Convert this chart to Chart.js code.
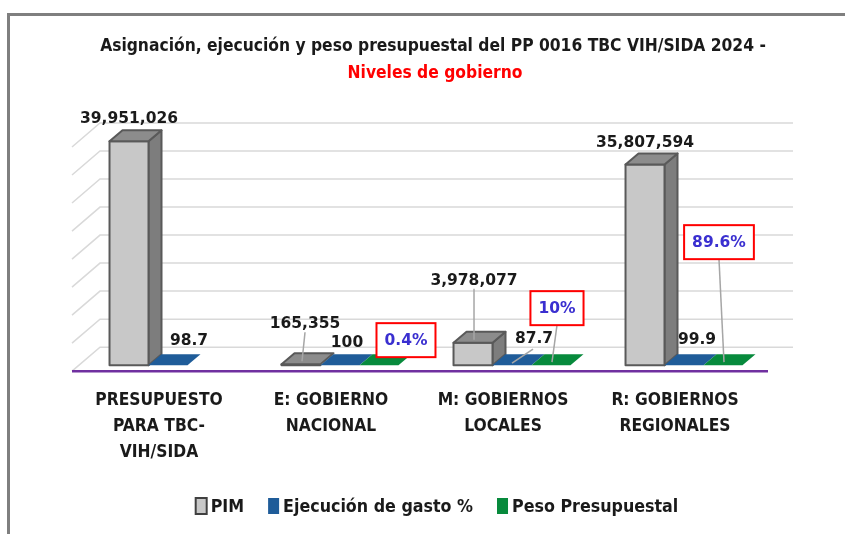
<!DOCTYPE html>
<html lang="es">
<head>
<meta charset="utf-8">
<title>PP 0016 TBC VIH/SIDA 2024</title>
<script src="https://cdn.jsdelivr.net/npm/chart.js@4.4.1/dist/chart.umd.min.js"></script>
<style>
  html, body { margin: 0; padding: 0; background: #fff; }
  #wrap { position: relative; width: 845px; height: 534px; overflow: hidden; }
  #frame { position: absolute; left: 7px; top: 13px; width: 900px; height: 600px;
           border-left: 3px solid #7f7f7f; border-top: 3px solid #7f7f7f; }
  canvas { position: absolute; left: 0; top: 0; }
</style>
</head>
<body>
<div id="wrap">
  <div id="frame"></div>
  <canvas id="chart" width="845" height="534"></canvas>
</div>
<script>
  const titleLine1 = "Asignación, ejecución y peso presupuestal del PP 0016 TBC VIH/SIDA 2024 -";
  const titleLine2 = "Niveles de gobierno";

  const categories = [
    ["PRESUPUESTO", "PARA TBC-", "VIH/SIDA"],
    ["E: GOBIERNO", "NACIONAL"],
    ["M: GOBIERNOS", "LOCALES"],
    ["R: GOBIERNOS", "REGIONALES"],
  ];
  const seriesNames = ["PIM", "Ejecución de gasto %", "Peso Presupuestal"];
  const pim = [39951026, 165355, 3978077, 35807594];
  const ejecucion = [98.7, 100, 87.7, 99.9];
  const peso = [null, 0.4, 10, 89.6];
  const gridValues = [0, 5000000, 10000000, 15000000, 20000000, 25000000, 30000000, 35000000, 40000000];

  const FONT = "'Liberation Sans Narrow', 'DejaVu Sans Condensed', 'Roboto Condensed', Arial, sans-serif";
  const LABEL_FONT = "bold 15.5px 'DejaVu Sans', Verdana, sans-serif";
  const TEXT = "#1a1a1a";

  // 3D look: depth of each box and of the back wall
  const DX = 13, DY = -11;
  const WALL = { frontX: -10, frontY: 6, backX: 18, backY: -18, rightX: 23 };

  const faces = [
    { front: "#c8c8c8", top: "#8c8c8c", side: "#7d7d7d", border: "#595959" },
    { front: "#1f5c99", top: "#1f5c99", side: "#174a7c", border: null },
    { front: "#078a3c", top: "#078a3c", side: "#056b2e", border: null },
  ];

  // label placement relative to bar top (dx, dy), optional leader line
  const labelPlace = [
    [{ dx: 0, dy: -23 }, { dx: 4, dy: -41, lead: true }, { dx: 1, dy: -63, lead: true }, { dx: 0, dy: -23 }],
    [{ dx: 21, dy: -25 }, { dx: 7, dy: -23 }, { dx: 22, dy: -27, lead: "diag" }, { dx: 13, dy: -26 }],
    [null, { dx: 27, dy: -25 }, { dx: 6, dy: -57, lead: true }, { dx: -4, dy: -123, lead: true }],
  ];

  function labelText(d, v) {
    if (d === 0) return v.toLocaleString("en-US");
    if (d === 1) return String(v);
    return v + "%";
  }

  function poly(ctx, pts, fill, stroke) {
    ctx.beginPath();
    pts.forEach((p, i) => (i ? ctx.lineTo(p[0], p[1]) : ctx.moveTo(p[0], p[1])));
    ctx.closePath();
    ctx.fillStyle = fill;
    ctx.fill();
    if (stroke) {
      ctx.strokeStyle = stroke;
      ctx.lineWidth = 2;
      ctx.stroke();
    }
  }

  function drawBox(ctx, el, st) {
    const l = el.x - el.width / 2;
    const r = el.x + el.width / 2;
    const t = Math.min(el.y, el.base);
    const b = Math.max(el.y, el.base);
    ctx.lineJoin = "round";
    if (b - t > 1) {
      poly(ctx, [[r, t], [r + DX, t + DY], [r + DX, b + DY], [r, b]], st.side, st.border);
    }
    poly(ctx, [[l, t], [r, t], [r, b], [l, b]], st.front, st.border);
    poly(ctx, [[l, t], [r, t], [r + DX, t + DY], [l + DX, t + DY]], st.top, st.border);
  }

  const box3d = {
    id: "box3d",
    beforeDatasetsDraw(chart) {
      const ctx = chart.ctx;
      const area = chart.chartArea;
      const y = chart.scales.y;
      ctx.save();
      // back wall + side wall grid
      ctx.strokeStyle = "#d9d9d9";
      ctx.lineWidth = 1.5;
      gridValues.forEach((v) => {
        const py = y.getPixelForValue(v);
        ctx.beginPath();
        ctx.moveTo(area.left + WALL.frontX, py + WALL.frontY);
        ctx.lineTo(area.left + WALL.backX, py + WALL.backY);
        ctx.lineTo(area.right + WALL.rightX, py + WALL.backY);
        ctx.stroke();
      });
      // floor edge
      const base = y.getPixelForValue(0);
      ctx.strokeStyle = "#7030a0";
      ctx.lineWidth = 2.5;
      ctx.beginPath();
      ctx.moveTo(area.left + WALL.frontX, base + WALL.frontY);
      ctx.lineTo(area.right - 2, base + WALL.frontY);
      ctx.stroke();

      // boxes: category by category, left to right
      const metas = chart.data.datasets.map((_, d) => chart.getDatasetMeta(d));
      categories.forEach((_, i) => {
        metas.forEach((meta, d) => {
          const el = meta.data[i];
          if (!el || chart.data.datasets[d].data[i] === null) return;
          drawBox(ctx, el, faces[d]);
        });
      });
      ctx.restore();
      return false;
    },
    afterDraw(chart) {
      const ctx = chart.ctx;
      ctx.save();
      ctx.textAlign = "center";
      ctx.textBaseline = "middle";
      chart.data.datasets.forEach((ds, d) => {
        const meta = chart.getDatasetMeta(d);
        ds.data.forEach((v, i) => {
          const place = labelPlace[d][i];
          if (v === null || !place) return;
          const el = meta.data[i];
          const lx = el.x + place.dx;
          const ly = el.y + place.dy;
          const txt = labelText(d, v);
          ctx.font = LABEL_FONT;
          const w = ctx.measureText(txt).width;
          const boxH = d === 2 ? 34 : 18;
          if (place.lead) {
            ctx.strokeStyle = "#a6a6a6";
            ctx.lineWidth = 1.5;
            ctx.beginPath();
            if (place.lead === "diag") {
              ctx.moveTo(lx - 1, ly + 11);
              ctx.lineTo(el.x, el.y - 2);
            } else {
              ctx.moveTo(lx, ly + boxH / 2);
              ctx.lineTo(el.x + 1, el.y - 3);
            }
            ctx.stroke();
          }
          if (d === 2) {
            const bw = w + 16;
            ctx.fillStyle = "#ffffff";
            ctx.fillRect(lx - bw / 2, ly - boxH / 2, bw, boxH);
            ctx.strokeStyle = "#ff0000";
            ctx.lineWidth = 2;
            ctx.strokeRect(lx - bw / 2, ly - boxH / 2, bw, boxH);
            ctx.fillStyle = "#3a2fd0";
          } else {
            ctx.fillStyle = TEXT;
          }
          ctx.fillText(txt, lx, ly + 1);
        });
      });

      // title
      ctx.font = "bold 17.3px " + FONT;
      ctx.fillStyle = TEXT;
      ctx.fillText(titleLine1, 433, 47);
      ctx.fillStyle = "#ff0000";
      ctx.fillText(titleLine2, 435, 74);

      // legend
      ctx.font = "bold 17.7px " + FONT;
      ctx.textAlign = "left";
      const boxW = 11, boxH = 16, gapBox = 4, gapItem = 24;
      const widths = chart.data.datasets.map((ds) => boxW + gapBox + ctx.measureText(ds.label).width);
      const total = widths.reduce((a, b) => a + b, 0) + gapItem * (widths.length - 1);
      let x = 437 - total / 2;
      const ly = 506;
      chart.data.datasets.forEach((ds, d) => {
        const st = faces[d];
        ctx.fillStyle = st.front;
        ctx.fillRect(x, ly - boxH / 2, boxW, boxH);
        if (st.border) {
          ctx.strokeStyle = "#404040";
          ctx.lineWidth = 2;
          ctx.strokeRect(x, ly - boxH / 2, boxW, boxH);
        }
        ctx.fillStyle = TEXT;
        ctx.fillText(ds.label, x + boxW + gapBox, ly + 1);
        x += widths[d] + gapItem;
      });
      ctx.restore();
    },
  };

  new Chart(document.getElementById("chart"), {
    type: "bar",
    data: {
      labels: categories,
      datasets: [
        { label: seriesNames[0], data: pim, backgroundColor: faces[0].front },
        { label: seriesNames[1], data: ejecucion, backgroundColor: faces[1].front },
        { label: seriesNames[2], data: peso, backgroundColor: faces[2].front },
      ],
    },
    options: {
      responsive: false,
      animation: false,
      events: [],
      layout: { padding: { top: 141, left: 82, right: 75, bottom: 47 } },
      datasets: { bar: { categoryPercentage: 0.68, barPercentage: 1 } },
      plugins: { legend: { display: false }, title: { display: false }, tooltip: { enabled: false } },
      scales: {
        x: {
          grid: { display: false, drawTicks: false, tickLength: 0 },
          border: { display: false },
          ticks: {
            padding: 22,
            maxRotation: 0,
            autoSkip: false,
            labelOffset: -9,
            color: TEXT,
            font: { family: FONT, size: 17.3, weight: "bold", lineHeight: 1.5 },
          },
        },
        y: {
          display: false,
          min: 0,
          max: 40000000,
        },
      },
    },
    plugins: [box3d],
  });
</script>
</body>
</html>
